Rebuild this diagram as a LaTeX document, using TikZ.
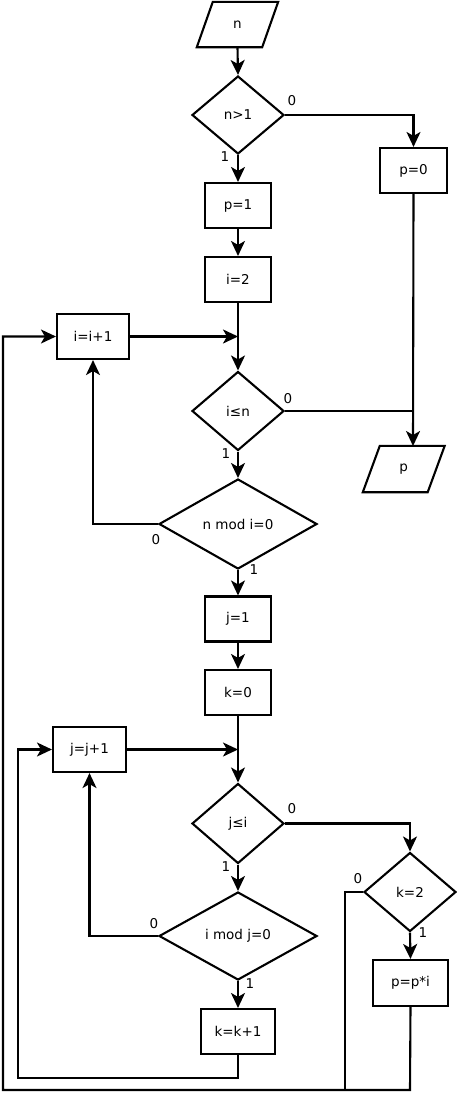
\documentclass[tikz,border=0pt]{standalone}
\usepackage{fontspec}
\setmainfont{DejaVu Sans}
\usetikzlibrary{shapes.geometric,arrows.meta,calc}
\begin{document}
\begin{tikzpicture}[x=1pt,y=-1pt,
  every node/.style={font=\fontsize{13.5}{16}\selectfont},
  line/.style={line width=2.1pt,line join=miter},
  arr/.style={line,-{Stealth[length=15pt,width=14pt,inset=4pt]}},
  procbox/.style={draw,line width=2.1pt,rectangle,inner sep=0pt,minimum height=45pt},
  iobox/.style={rectangle,inner sep=0pt,minimum height=45pt},
  decide/.style={draw,line width=2.1pt,diamond,inner sep=0pt},
  lbl/.style={inner sep=0pt}
]
\useasboundingbox (0,0) rectangle (457,1093);
% nodes
\node[iobox,minimum width=65pt] (n) at (237.5,24.5) {n};
\node[decide,minimum width=92pt,minimum height=78pt] (d1) at (238,115) {n>1};
\node[procbox,minimum width=67pt] (p0) at (413.5,170.5) {p=0};
\node[procbox,minimum width=66pt] (p1) at (238,205.5) {p=1};
\node[procbox,minimum width=66pt] (i2) at (238,279.5) {i=2};
\node[procbox,minimum width=72pt] (ii) at (93,336.5) {i=i+1};
\node[decide,minimum width=92pt,minimum height=79pt] (d2) at (238,411) {i≤n};
\node[iobox,minimum width=64.5pt,minimum height=46pt] (pout) at (403.75,469) {p};
\node[decide,minimum width=158pt,minimum height=90pt] (d3) at (238,524) {n mod i=0};
\node[procbox,minimum width=66pt] (j1) at (238,619) {j=1};
\node[procbox,minimum width=66pt] (k0) at (238,692.5) {k=0};
\node[procbox,minimum width=73pt] (jj) at (89.5,749.5) {j=j+1};
\node[decide,minimum width=92pt,minimum height=80pt] (d4) at (238,823.5) {j≤i};
\node[decide,minimum width=92pt,minimum height=79pt] (d5) at (410,892) {k=2};
\node[decide,minimum width=158pt,minimum height=88pt] (d6) at (238,936) {i mod j=0};
\node[procbox,minimum width=75pt,minimum height=46pt] (pp) at (410.5,983) {p=p*i};
\node[procbox,minimum width=74pt] (kk) at (238,1031.5) {k=k+1};
% parallelogram outlines
\draw[line] ($(n.north west)+(8,0)$) -- ($(n.north east)+(8,0)$) -- ($(n.south east)+(-8,0)$) -- ($(n.south west)+(-8,0)$) -- cycle;
\draw[line] ($(pout.north west)+(8.5,0)$) -- ($(pout.north east)+(8.5,0)$) -- ($(pout.south east)+(-8.5,0)$) -- ($(pout.south west)+(-8.5,0)$) -- cycle;
% coordinates
\coordinate (jA) at (238,336.5);
\coordinate (jB) at (413,411);
\coordinate (pin) at (413,446);
\coordinate (jC) at (238,749.5);
\coordinate (kA) at (238,1078);
\coordinate (kB) at (18,1078);
\coordinate (kC) at (18,749.5);
\coordinate (oA) at (410,1090);
\coordinate (oB) at (3,1090);
\coordinate (oC) at (3,336.5);
\coordinate (zA) at (345,892);
\coordinate (zB) at (345,1090);
% connectors
\draw[arr] (n.south) -- (d1.north);
\draw[arr] (d1.east) -| (p0.north);
\draw[arr] (d1.south) -- (p1.north);
\draw[arr] (p1.south) -- (i2.north);
\draw[arr] (i2.south) -- (d2.north);
\draw[arr] (ii.east) -- (jA);
\draw[line] (d2.east) -- (jB);
\draw[arr] (p0.south) -- (pin);
\draw[arr] (d2.south) -- (d3.north);
\draw[arr] (d3.west) -| (ii.south);
\draw[arr] (d3.south) -- (j1.north);
\draw[arr] (j1.south) -- (k0.north);
\draw[arr] (k0.south) -- (d4.north);
\draw[arr] (jj.east) -- (jC);
\draw[arr] (d4.east) -| (d5.north);
\draw[arr] (d4.south) -- (d6.north);
\draw[arr] (d6.west) -| (jj.south);
\draw[arr] (d6.south) -- (kk.north);
\draw[arr] (kk.south) -- (kA) -- (kB) -- (kC) -- (jj.west);
\draw[arr] (d5.south) -- (pp.north);
\draw[arr] (pp.south) -- (oA) -- (oB) -- (oC) -- (ii.west);
\draw[line] (d5.west) -- (zA) -- (zB);
% labels
\node[lbl] (l1) at (292,101) {0};
\node[lbl] (l2) at (225,157) {1};
\node[lbl] (l3) at (288,399) {0};
\node[lbl] (l4) at (226,454) {1};
\node[lbl] (l5) at (156,540) {0};
\node[lbl] (l6) at (254,570) {1};
\node[lbl] (l7) at (292,809) {0};
\node[lbl] (l8) at (226,867) {1};
\node[lbl] (l9) at (154,924) {0};
\node[lbl] (l10) at (250,984) {1};
\node[lbl] (l11) at (358,879) {0};
\node[lbl] (l12) at (423,933) {1};
\end{tikzpicture}
\end{document}
